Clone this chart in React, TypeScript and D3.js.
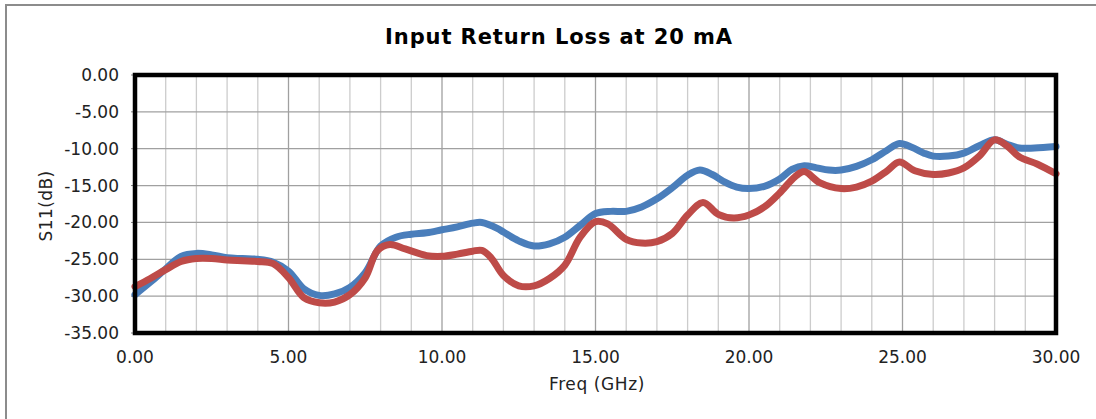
import React from "react";
import * as d3 from "d3";

const title = "Input Return Loss at 20 mA";
const xTitle = "Freq (GHz)";
const yTitle = "S11(dB)";
const xTicks = [0, 5, 10, 15, 20, 25, 30];
const yTicks = [0, -5, -10, -15, -20, -25, -30, -35];

const blueFreq = [0, 0.5, 1, 1.5, 2, 2.5, 3, 3.5, 4, 4.5, 5, 5.5, 6, 6.5, 7, 7.5, 8, 8.5, 9, 9.5, 10, 10.5, 11, 11.3, 11.8, 12, 12.5, 13, 13.5, 14, 14.5, 15, 15.5, 16, 16.5, 17, 17.5, 18, 18.4, 18.8, 19.2, 19.6, 20, 20.5, 21, 21.4, 21.8, 22.2, 22.6, 23, 23.5, 24, 24.5, 24.9, 25.3, 25.7, 26, 26.5, 27, 27.5, 28, 28.4, 28.8, 29.3, 30];
const blueS11 = [-29.8, -28.1, -26.3, -24.6, -24.2, -24.4, -24.8, -24.9, -25.0, -25.4, -26.6, -29.0, -29.9, -29.7, -28.8, -26.8, -23.2, -22.0, -21.6, -21.4, -21.0, -20.6, -20.1, -20.0, -20.8, -21.3, -22.5, -23.2, -22.9, -22.0, -20.4, -18.8, -18.5, -18.5, -17.9, -16.8, -15.3, -13.6, -12.9, -13.5, -14.5, -15.2, -15.4, -15.1, -14.1, -12.8, -12.3, -12.6, -12.9, -12.9, -12.4, -11.5, -10.2, -9.3, -9.8, -10.6, -11.0, -11.0, -10.6, -9.6, -8.8, -9.4, -9.9, -9.9, -9.7];

const redFreq = [0, 0.5, 1, 1.5, 2, 2.5, 3, 3.5, 4, 4.5, 5, 5.5, 6, 6.5, 7, 7.5, 7.9, 8.3, 8.8, 9.5, 10, 10.5, 11, 11.3, 11.6, 12, 12.5, 13, 13.5, 14, 14.5, 15, 15.4, 16, 16.5, 17, 17.5, 18, 18.5, 19, 19.5, 20, 20.5, 21, 21.5, 21.8, 22.3, 23, 23.5, 24, 24.5, 24.9, 25.4, 26, 26.5, 27, 27.5, 28, 28.4, 28.8, 29.4, 30];
const redS11 = [-28.7, -27.6, -26.4, -25.3, -24.9, -24.9, -25.1, -25.2, -25.3, -25.6, -27.5, -30.2, -30.9, -30.8, -29.8, -27.5, -23.8, -23.0, -23.6, -24.5, -24.6, -24.3, -23.9, -23.8, -24.8, -27.2, -28.6, -28.6, -27.6, -25.8, -22.0, -19.9, -20.2, -22.3, -22.8, -22.6, -21.5, -19.0, -17.3, -18.9, -19.4, -19.0, -17.9, -16.0, -13.8, -13.1, -14.6, -15.4, -15.2, -14.4, -13.0, -11.8, -13.0, -13.5, -13.3, -12.6, -11.0, -8.8, -9.6, -11.1, -12.1, -13.4];

const series = [
  { name: "blue", freq: blueFreq, vals: blueS11, color: "#4a7ebb" },
  { name: "red", freq: redFreq, vals: redS11, color: "#be4b48" },
];

export default function App() {
  const W = 1096, H = 419;
  const left = 135, right = 1056, top = 75, bottom = 333;
  const x = d3.scaleLinear().domain([0, 30]).range([left, right]);
  const y = d3.scaleLinear().domain([-35, 0]).range([bottom, top]);
  const font = "'DejaVu Sans', Verdana, sans-serif";
  const minorX = d3.range(0, 31, 1);

  const line = (f: number[], v: number[]) =>
    d3
      .line<number>()
      .x((_, i) => x(f[i]))
      .y((d) => y(d))
      .curve(d3.curveCatmullRom.alpha(0.5))(v) || "";

  return (
    <svg width={W} height={H} style={{ position: "absolute", left: 0, top: 0, background: "#fff" }}>
      <rect x={0} y={0} width={W} height={H} fill="#fff" />
      <rect x={6} y={5} width={1300} height={600} fill="none" stroke="#8c8c8c" strokeWidth={2} />
      <text x={559} y={44} textAnchor="middle" fontFamily={font} fontWeight="bold" fontSize={21} letterSpacing={0.9} fill="#000">
        {title}
      </text>
      {minorX.map((d) => (
        <line
          key={"vx" + d}
          x1={x(d)}
          x2={x(d)}
          y1={top}
          y2={bottom}
          stroke={d % 5 === 0 ? "#a0a0a0" : "#cccccc"}
          strokeWidth={1.3}
        />
      ))}
      {yTicks.map((d) => (
        <line key={"hy" + d} x1={left} x2={right} y1={y(d)} y2={y(d)} stroke="#a0a0a0" strokeWidth={1.3} />
      ))}
      {yTicks.map((d) => (
        <line key={"ty" + d} x1={left - 4} x2={left} y1={y(d)} y2={y(d)} stroke="#808080" strokeWidth={1} />
      ))}
      {series.map((s) => (
        <path
          key={s.name}
          d={line(s.freq, s.vals)}
          fill="none"
          stroke={s.color}
          strokeWidth={7}
          strokeLinecap="round"
          strokeLinejoin="round"
        />
      ))}
      <rect x={left} y={top} width={right - left} height={bottom - top} fill="none" stroke="#000" strokeWidth={4.5} />
      {yTicks.map((d) => (
        <text key={"yl" + d} x={119} y={y(d) + 6} textAnchor="end" fontFamily={font} fontSize={17} fill="#222">
          {d.toFixed(2)}
        </text>
      ))}
      {xTicks.map((d) => (
        <text key={"xl" + d} x={x(d)} y={363} textAnchor="middle" fontFamily={font} fontSize={17} fill="#222">
          {d.toFixed(2)}
        </text>
      ))}
      <text x={597} y={390} textAnchor="middle" fontFamily={font} fontSize={17} letterSpacing={0.6} fill="#222">
        {xTitle}
      </text>
      <text
        transform={`translate(52,206) rotate(-90)`}
        textAnchor="middle"
        fontFamily={font}
        fontSize={17}
        letterSpacing={0.4}
        fill="#222"
      >
        {yTitle}
      </text>
    </svg>
  );
}
